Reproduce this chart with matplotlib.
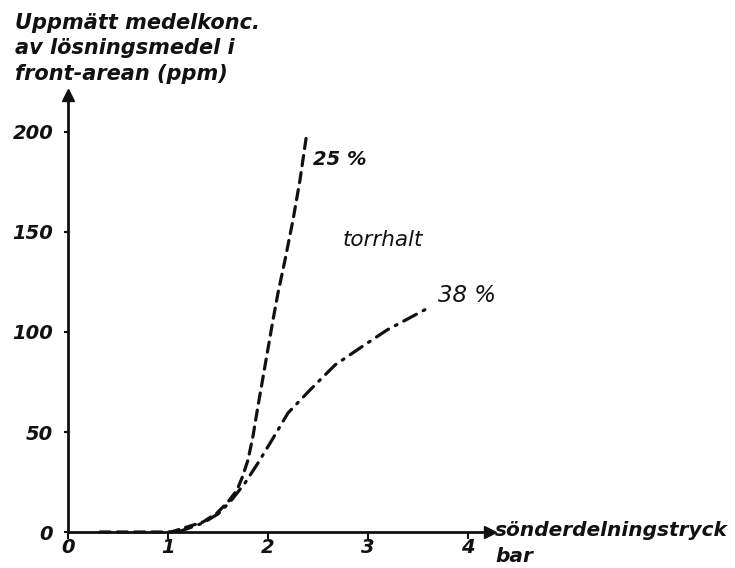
import matplotlib
matplotlib.use("Agg")
import matplotlib.pyplot as plt

# ---- data ----
x25 = [0.32, 1.0, 1.05, 1.19, 1.35, 1.49, 1.60, 1.69, 1.74, 1.80, 1.85, 1.90,
       2.05, 2.10, 2.17, 2.25, 2.32, 2.39]
y25 = [0, 0, 0.3, 2.5, 5, 9.5, 15, 21, 27, 36, 48, 63,
       106, 119.5, 136, 156, 176, 200]

x38 = [1.1, 1.35, 1.5, 1.62, 1.77, 1.90, 2.04, 2.20, 2.42, 2.67, 2.92, 3.19, 3.62]
y38 = [0, 4.5, 9, 15, 24.5, 34.5, 46, 59.5, 71, 83.5, 92, 101, 112.5]

xticks = [0, 1, 2, 3, 4]
yticks = [0, 50, 100, 150, 200]
ylabel_text = "Uppmätt medelkonc.\nav lösningsmedel i\nfront-arean (ppm)"
xlabel_text = "sönderdelningstryck"
xunit_text = "bar"
label25 = "25 %"
label38 = "38 %"
label_mid = "torrhalt"

plt.rcParams['font.family'] = ['DejaVu Sans']
W, H = 735, 568
fig = plt.figure(figsize=(W / 100, H / 100), dpi=100)
fig.patch.set_facecolor("white")

x0px, y0px = 68, 532
xend, ytop = 490, 95
ax = fig.add_axes([x0px / W, (H - y0px) / H, (xend - x0px) / W, (y0px - ytop) / H])
ax.set_xlim(0, (xend - x0px) / 100)
ax.set_ylim(0, (y0px - ytop) / 2)
for s in ("top", "right"):
    ax.spines[s].set_visible(False)
for s in ("left", "bottom"):
    ax.spines[s].set_linewidth(2.0)
    ax.spines[s].set_color("#111111")

ink = "#111111"
tfont = dict(fontsize=14, fontweight="bold", fontstyle="italic", color=ink)
ax.set_xticks(xticks)
ax.set_xticklabels([str(t) for t in xticks], **tfont)
ax.set_yticks(yticks)
ax.set_yticklabels([str(t) for t in yticks], **tfont)
ax.tick_params(axis="x", direction="out", length=5, width=1.5, pad=-0.5, color=ink)
ax.tick_params(axis="y", direction="out", length=3, width=1.5, pad=7.5, color=ink)

# arrow heads
ax.plot(1, 0, marker=">", color=ink, markersize=8, transform=ax.transAxes, clip_on=False)
ax.plot(0, 1, marker="^", color=ink, markersize=8, transform=ax.transAxes, clip_on=False)

# curves
ax.plot(x25, y25, color=ink, lw=2.3, dashes=(3.2, 2.2), dash_capstyle="round",
        clip_on=False)
ax.plot(x38, y38, color=ink, lw=2.3, dashes=(4.5, 2.4, 0.6, 2.4),
        dash_capstyle="round", clip_on=False)

# annotations
ax.text(2.45, 186, label25, va="center", ha="left", fontsize=14, fontweight="bold",
        fontstyle="italic", color=ink)
ax.text(2.75, 146, label_mid, va="center", ha="left", fontsize=15.5,
        fontstyle="italic", color=ink)
ax.text(3.70, 118, label38, va="center", ha="left", fontsize=16.5,
        fontstyle="italic", color=ink)
ax.text(4.27, 0.5, xlabel_text, va="center", ha="left", clip_on=False, fontsize=14.5,
        fontweight="bold", fontstyle="italic", color=ink)
ax.text(4.27, -12, xunit_text, va="center", ha="left", clip_on=False, fontsize=14.5,
        fontweight="bold", fontstyle="italic", color=ink)

fig.text(15 / W, 1 - 13 / H, ylabel_text, va="top", ha="left", linespacing=1.33,
         fontsize=15, fontweight="bold", fontstyle="italic", color=ink)

fig.savefig("out.png", dpi=100, facecolor="white")
